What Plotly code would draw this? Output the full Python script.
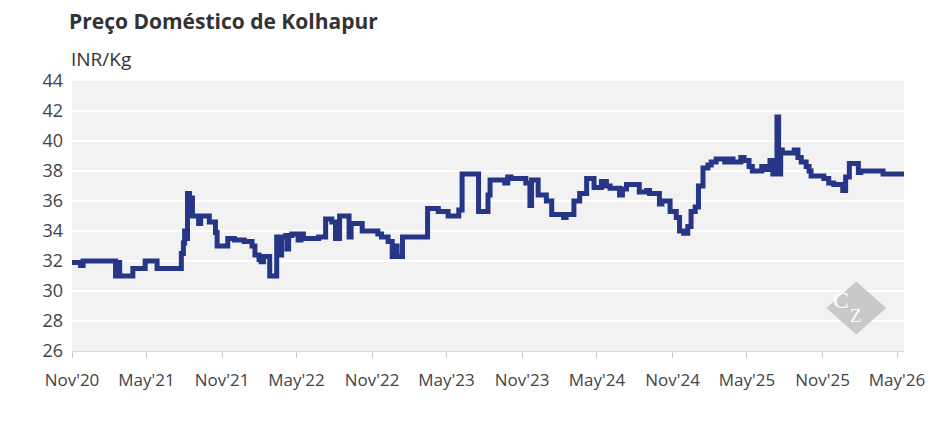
import plotly.graph_objects as go

# -------------------------------------
# DATA
# -------------------------------------

dates = [
    "2020-11-01", "2020-11-22", "2020-11-28", "2021-02-15", "2021-02-20",
    "2021-02-25", "2021-03-29", "2021-04-28", "2021-05-27", "2021-07-25",
    "2021-07-30", "2021-08-02", "2021-08-06", "2021-08-09", "2021-08-14",
    "2021-08-17", "2021-08-21", "2021-09-05", "2021-09-10", "2021-10-01",
    "2021-10-16", "2021-10-20", "2021-11-15", "2021-12-01", "2021-12-25",
    "2022-01-13", "2022-01-20", "2022-01-30", "2022-02-04", "2022-02-10",
    "2022-02-25", "2022-03-14", "2022-03-20", "2022-03-26", "2022-04-05",
    "2022-04-08", "2022-04-12", "2022-04-20", "2022-05-05", "2022-05-12",
    "2022-05-18", "2022-06-24", "2022-07-11", "2022-07-26", "2022-08-04",
    "2022-08-14", "2022-09-06", "2022-09-11", "2022-10-08", "2022-11-15",
    "2022-11-24", "2022-12-10", "2022-12-20", "2022-12-27", "2023-01-01",
    "2023-01-14", "2023-03-16", "2023-04-11", "2023-05-05", "2023-05-31",
    "2023-06-08", "2023-07-18", "2023-08-10", "2023-08-15", "2023-09-20",
    "2023-09-27", "2023-10-05", "2023-11-10", "2023-11-20", "2023-11-24",
    "2023-12-10", "2023-12-30", "2024-01-12", "2024-02-10", "2024-02-16",
    "2024-03-06", "2024-03-20", "2024-04-06", "2024-04-24", "2024-05-12",
    "2024-05-24", "2024-06-02", "2024-06-25", "2024-07-02", "2024-07-12",
    "2024-08-12", "2024-08-30", "2024-09-06", "2024-09-30", "2024-10-06",
    "2024-10-26", "2024-11-10", "2024-11-18", "2024-11-28", "2024-12-08",
    "2024-12-16", "2024-12-26", "2025-01-03", "2025-01-14", "2025-01-26",
    "2025-02-03", "2025-02-15", "2025-03-08", "2025-03-16", "2025-03-28",
    "2025-04-16", "2025-04-24", "2025-05-06", "2025-05-14", "2025-06-06",
    "2025-06-15", "2025-06-26", "2025-07-03", "2025-07-13", "2025-07-17",
    "2025-07-22", "2025-07-26", "2025-08-24", "2025-09-02", "2025-09-10",
    "2025-09-22", "2025-09-29", "2025-10-04", "2025-11-04", "2025-11-16",
    "2025-11-28", "2025-12-20", "2025-12-27", "2026-01-05", "2026-01-27",
    "2026-02-02", "2026-03-28", "2026-05-18",
]

prices = [
    31.9, 31.7, 32.0, 31.0, 31.9,
    31.0, 31.5, 32.0, 31.5, 32.5,
    33.2, 34.0, 33.5, 36.5, 35.5,
    36.2, 35.0, 34.5, 35.0, 34.6,
    33.9, 33.0, 33.5, 33.4, 33.3,
    33.0, 32.4, 32.1, 31.95, 32.3,
    31.0, 33.6, 32.4, 33.6, 33.7,
    32.8, 33.7, 33.8, 33.4, 33.8,
    33.5, 33.6, 34.8, 34.6, 33.5,
    35.0, 33.6, 34.5, 34.0, 33.8,
    33.6, 33.3, 32.3, 33.0, 32.3,
    33.6, 35.5, 35.3, 35.0, 35.4,
    37.8, 35.3, 36.4, 37.4, 37.2,
    37.6, 37.5, 37.2, 35.7, 37.4,
    36.4, 36.0, 35.1, 34.9, 35.1,
    36.0, 36.5, 37.5, 36.9, 37.3,
    37.0, 36.85, 36.4, 36.8, 37.1,
    36.6, 36.7, 36.5, 35.8, 36.0,
    35.3, 34.9, 34.0, 33.85, 34.3,
    35.3, 35.6, 37.0, 38.2, 38.4,
    38.6, 38.8, 38.6, 38.8, 38.6,
    38.9, 38.7, 38.3, 38.0, 38.3,
    38.1, 38.7, 37.8, 41.6, 37.8,
    39.4, 39.2, 39.4, 38.9, 38.6,
    38.3, 38.0, 37.67, 37.5, 37.2,
    37.1, 36.7, 37.6, 38.5, 37.9,
    38.0, 37.8, 37.8,
]

tick_vals = ["2020-11-01", "2021-05-01", "2021-11-01", "2022-05-01",
             "2022-11-01", "2023-05-01", "2023-11-01", "2024-05-01",
             "2024-11-01", "2025-05-01", "2025-11-01", "2026-05-01"]
tick_text = ["Nov'20", "May'21", "Nov'21", "May'22", "Nov'22", "May'23",
             "Nov'23", "May'24", "Nov'24", "May'25", "Nov'25", "May'26"]

# -------------------------------------
# FIGURE
# -------------------------------------

# the page has an 8px body margin, so the figure is drawn 16px smaller
W, H = 929, 427
PLOT_H = H - 73 - 84

fig = go.Figure()

fig.add_trace(go.Scatter(
    x=dates,
    y=prices,
    mode="lines",
    line=dict(color="#263585", width=5, shape="hv"),
    showlegend=False,
    hoverinfo="x+y"
))

# watermark diamond
fig.add_shape(
    type="path",
    xref="paper", yref="paper",
    path="M 0.9067,0.159 L 0.9426,0.257 L 0.9785,0.159 L 0.9426,0.061 Z",
    fillcolor="#c9c9c9",
    line=dict(width=0),
    layer="above"
)
fig.add_annotation(x=0.9365, y=0.19, xref="paper", yref="paper", text="C",
                   showarrow=False, yanchor="middle",
                   font=dict(family="Liberation Serif", size=24, color="white"))
fig.add_annotation(x=0.9515, y=0.13, xref="paper", yref="paper", text="Z",
                   showarrow=False, yanchor="middle",
                   font=dict(family="Liberation Serif", size=19, color="white"))

# title and unit label
fig.add_annotation(x=0, y=1 + (73 - 13) / PLOT_H, xref="paper", yref="paper",
                   text="<b>Preço Doméstico de Kolhapur</b>",
                   showarrow=False, xanchor="left", yanchor="middle",
                   xshift=-5,
                   font=dict(family="Open Sans", size=21, color="#333333"))
fig.add_annotation(x=0, y=1.0, xref="paper", yref="paper", text="INR/Kg",
                   showarrow=False, xanchor="left", yanchor="bottom",
                   xshift=-3, yshift=7,
                   font=dict(family="Open Sans", size=19, color="#333333"))

fig.update_layout(
    width=W,
    height=H,
    paper_bgcolor="white",
    plot_bgcolor="#f2f2f2",
    margin=dict(l=64, r=26, t=73, b=84),
    font=dict(family="Open Sans", size=17, color="#444444"),
    hovermode="x"
)

fig.update_xaxes(
    type="date",
    range=["2020-11-01", "2026-05-18"],
    tickvals=tick_vals,
    ticktext=tick_text,
    ticks="outside",
    ticklen=6,
    tickcolor="#cccccc",
    showline=True,
    linecolor="#d9d9d9",
    showgrid=False,
    zeroline=False,
    ticklabelstandoff=8,
    tickfont=dict(size=17, color="#444444")
)

fig.update_yaxes(
    range=[26, 44],
    dtick=2,
    showgrid=True,
    gridcolor="white",
    gridwidth=2,
    zeroline=False,
    showline=False,
    ticks="",
    ticklabelstandoff=8,
    tickfont=dict(size=18, color="#444444")
)

fig.write_html("out.html")
